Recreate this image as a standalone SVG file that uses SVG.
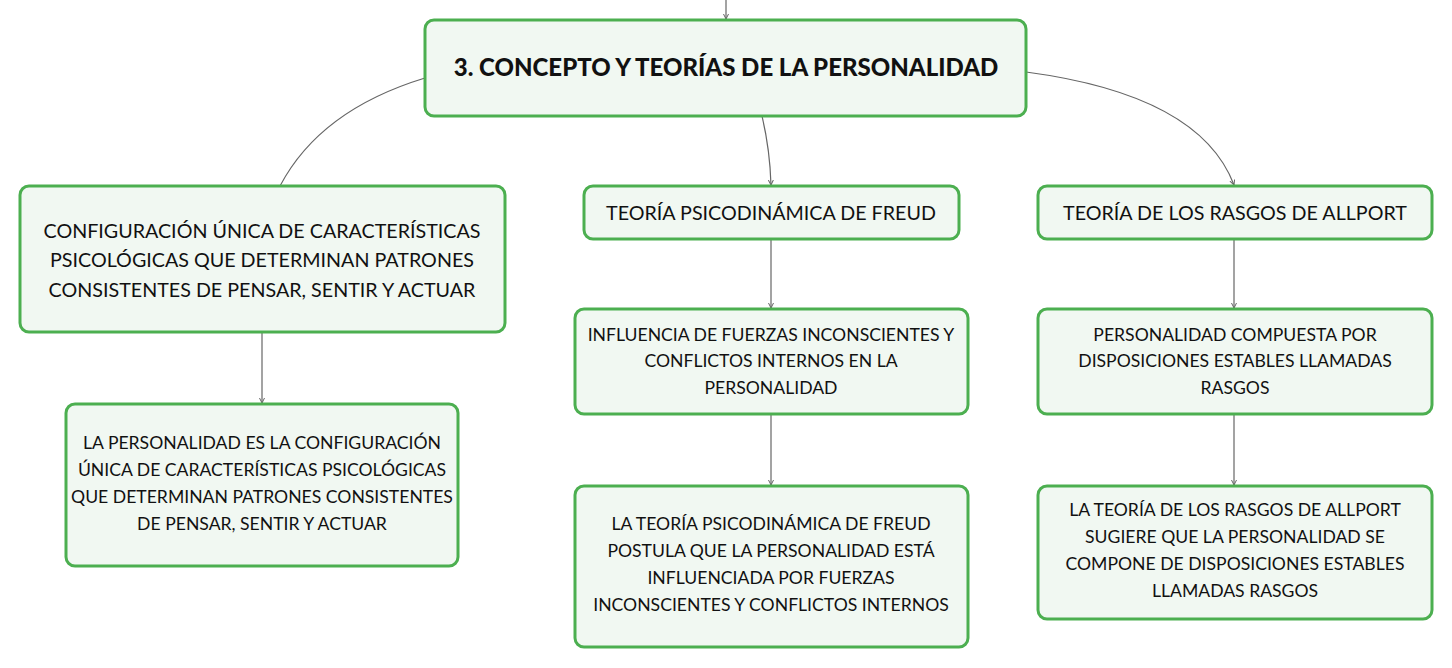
<svg xmlns="http://www.w3.org/2000/svg" width="1452" height="668" viewBox="0 0 1452 668">
<style>
.node rect{fill:#f1f8f2;stroke:#4caf50;stroke-width:3}
.node text{font-family:Lato,"Noto Sans",sans-serif;fill:#111;text-anchor:middle;font-size:19.7px}
.node text.t{font-size:24px;font-weight:900}
.node text.s{font-size:17.6px}
#connectors path{fill:none;stroke:#666;stroke-width:1.2}
</style>
<defs>
<marker id="ah" markerWidth="6" markerHeight="6" refX="5" refY="3" orient="auto" markerUnits="userSpaceOnUse">
<path d="M0,0.5 L5,3 L0,5.5" fill="none" stroke="#666" stroke-width="1"/>
</marker>
</defs>
<rect width="1452" height="668" fill="#fff"/>
<g id="connectors">
<path d="M726,0 L726,19" marker-end="url(#ah)"/>
<path d="M425,78 Q320,110 280,186"/>
<path d="M762,116 Q770,150 771,185" marker-end="url(#ah)"/>
<path d="M1026,72 Q1200,95 1234,185" marker-end="url(#ah)"/>
<path d="M262,332 L262,403" marker-end="url(#ah)"/>
<path d="M771,239 L771,308" marker-end="url(#ah)"/>
<path d="M771,414 L771,485" marker-end="url(#ah)"/>
<path d="M1234,239 L1234,308" marker-end="url(#ah)"/>
<path d="M1234,414 L1234,485" marker-end="url(#ah)"/>
</g>
<g id="n-root" class="node">
<rect x="425" y="20" width="601" height="96" rx="9"/>
<text class="t" x="726" y="76">3. CONCEPTO Y TEORÍAS DE LA PERSONALIDAD</text>
</g>
<g id="n-def" class="node">
<rect x="20" y="186" width="485" height="146" rx="9"/>
<text x="262" y="238">CONFIGURACIÓN ÚNICA DE CARACTERÍSTICAS</text>
<text x="262" y="267">PSICOLÓGICAS QUE DETERMINAN PATRONES</text>
<text x="262" y="297">CONSISTENTES DE PENSAR, SENTIR Y ACTUAR</text>
</g>
<g id="n-freud" class="node">
<rect x="584" y="186" width="375" height="53" rx="9"/>
<text x="771" y="220">TEORÍA PSICODINÁMICA DE FREUD</text>
</g>
<g id="n-allport" class="node">
<rect x="1038" y="186" width="394" height="53" rx="9"/>
<text x="1235" y="220">TEORÍA DE LOS RASGOS DE ALLPORT</text>
</g>
<g id="n-def2" class="node">
<rect x="66" y="404" width="392" height="162" rx="9"/>
<text class="s" x="262" y="449">LA PERSONALIDAD ES LA CONFIGURACIÓN</text>
<text class="s" x="262" y="476">ÚNICA DE CARACTERÍSTICAS PSICOLÓGICAS</text>
<text class="s" x="262" y="503">QUE DETERMINAN PATRONES CONSISTENTES</text>
<text class="s" x="262" y="530">DE PENSAR, SENTIR Y ACTUAR</text>
</g>
<g id="n-freud2" class="node">
<rect x="575" y="309" width="393" height="105" rx="9"/>
<text class="s" x="771" y="341">INFLUENCIA DE FUERZAS INCONSCIENTES Y</text>
<text class="s" x="771" y="367">CONFLICTOS INTERNOS EN LA</text>
<text class="s" x="771" y="394">PERSONALIDAD</text>
</g>
<g id="n-freud3" class="node">
<rect x="575" y="486" width="393" height="161" rx="9"/>
<text class="s" x="771" y="530">LA TEORÍA PSICODINÁMICA DE FREUD</text>
<text class="s" x="771" y="557">POSTULA QUE LA PERSONALIDAD ESTÁ</text>
<text class="s" x="771" y="584">INFLUENCIADA POR FUERZAS</text>
<text class="s" x="771" y="611">INCONSCIENTES Y CONFLICTOS INTERNOS</text>
</g>
<g id="n-allport2" class="node">
<rect x="1038" y="309" width="394" height="105" rx="9"/>
<text class="s" x="1235" y="341">PERSONALIDAD COMPUESTA POR</text>
<text class="s" x="1235" y="367">DISPOSICIONES ESTABLES LLAMADAS</text>
<text class="s" x="1235" y="394">RASGOS</text>
</g>
<g id="n-allport3" class="node">
<rect x="1038" y="486" width="394" height="133" rx="9"/>
<text class="s" x="1235" y="516">LA TEORÍA DE LOS RASGOS DE ALLPORT</text>
<text class="s" x="1235" y="543">SUGIERE QUE LA PERSONALIDAD SE</text>
<text class="s" x="1235" y="570">COMPONE DE DISPOSICIONES ESTABLES</text>
<text class="s" x="1235" y="597">LLAMADAS RASGOS</text>
</g>
</svg>
